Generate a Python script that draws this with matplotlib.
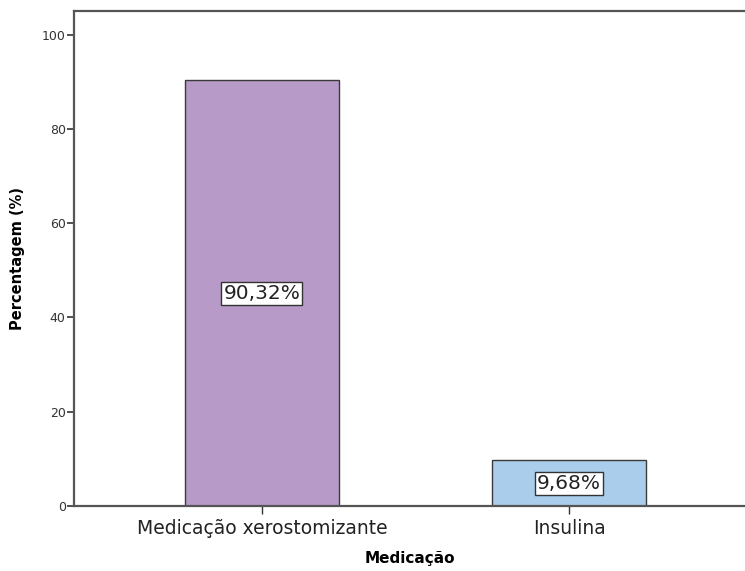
import matplotlib.pyplot as plt

categorias = ["Medicação xerostomizante", "Insulina"]
percentagens = [90.32, 9.68]
rotulos = ["90,32%", "9,68%"]
cores = ["#B79AC8", "#AACDEB"]

fig = plt.figure(figsize=(7.45, 5.71), dpi=100)
ax = fig.add_axes([74 / 745, 65 / 571, 1 - 74 / 745, 495 / 571])

pos = list(range(len(categorias)))
ax.bar(pos, percentagens, width=0.5, color=cores, edgecolor="#3a3a3a", linewidth=1.0, zorder=2)

# etiquetas no meio das barras
for x, v, t in zip(pos, percentagens, rotulos):
    ax.text(x, v / 2, t, ha="center", va="center", fontsize=14.5, color="#222222",
            bbox=dict(boxstyle="square,pad=0.1", fc="white", ec="#333333", lw=1.0), zorder=3)

ax.set_xlim(-0.612, 1.573)
ax.set_ylim(0, 105)
ax.set_yticks([0, 20, 40, 60, 80, 100])
ax.set_xticks(pos)
ax.set_xticklabels(categorias, fontsize=13.5, color="#222222")
ax.tick_params(axis="y", labelsize=9, length=5, width=1.2, color="#333333", labelcolor="#333333", pad=1)
ax.tick_params(axis="x", length=6, width=1.0, color="#333333", pad=3)

for s in ["left", "bottom", "top"]:
    ax.spines[s].set_color("#555555")
    ax.spines[s].set_linewidth(1.6)
ax.spines["right"].set_visible(False)

ax.set_xlabel("Medicação", fontsize=11, fontweight="bold", labelpad=10)
ax.set_ylabel("Percentagem (%)", fontsize=10.5, fontweight="bold", labelpad=12)

fig.savefig("out.png", dpi=100)
